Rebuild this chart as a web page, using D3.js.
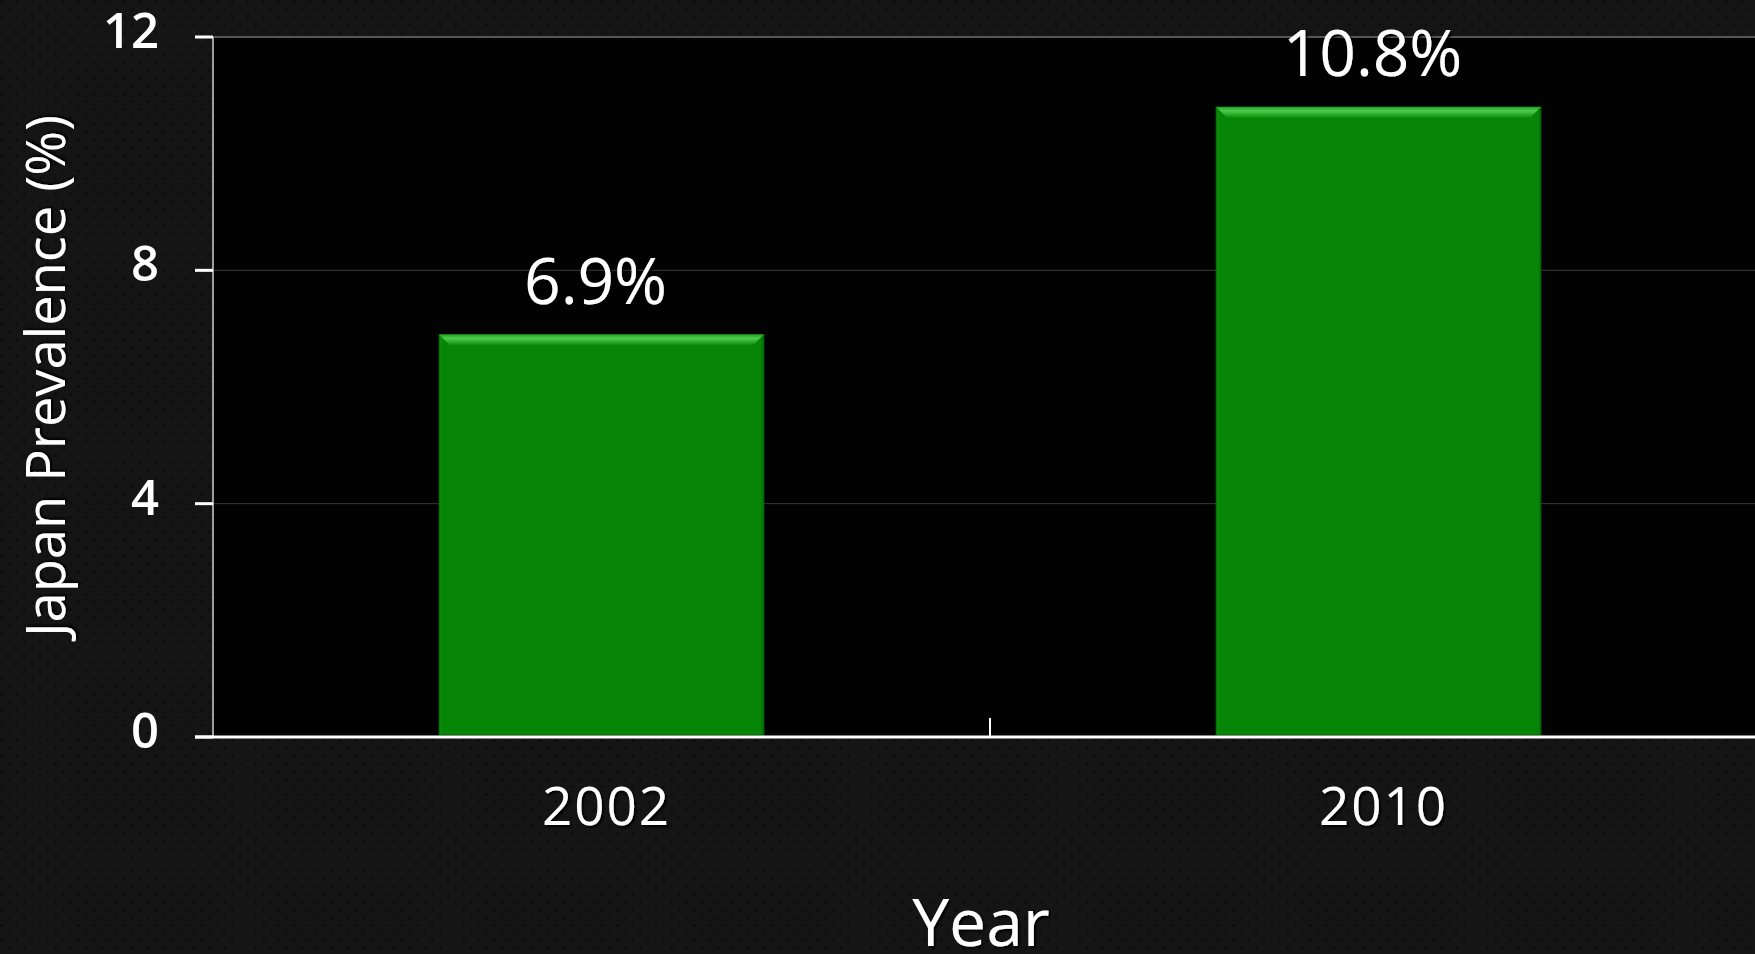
<!DOCTYPE html>
<html>
<head>
<meta charset="utf-8">
<script src="https://cdn.jsdelivr.net/npm/d3@7"></script>
<style>
  html, body { margin: 0; padding: 0; background: #141414; overflow: hidden; }
  svg { display: block; }
</style>
</head>
<body>
<script>
// Prevalence by survey year
const years = ["2002", "2010"];
const prevalence = [6.9, 10.8];
const valueLabels = ["6.9%", "10.8%"];
const yTicks = [0, 4, 8, 12];
const yTitle = "Japan Prevalence (%)";
const xTitle = "Year";

const W = 1755, H = 954;
const plot = { left: 213, right: 1767, top: 37, bottom: 737 };

const svg = d3.select("body").append("svg")
  .attr("width", W).attr("height", H);

const defs = svg.append("defs");

// dotted backdrop texture
const pat = defs.append("pattern")
  .attr("id", "dots").attr("patternUnits", "userSpaceOnUse")
  .attr("width", 15.4).attr("height", 15.4);
pat.append("rect").attr("width", 15.4).attr("height", 15.4).attr("fill", "#151515");
pat.append("circle").attr("cx", 1.5).attr("cy", 1.5).attr("r", 1.3).attr("fill", "#0a0a0a");
pat.append("circle").attr("cx", 9.2).attr("cy", 9.2).attr("r", 1.3).attr("fill", "#0a0a0a");

// soft dark shadow under text
const sh = defs.append("filter").attr("id", "txtShadow")
  .attr("x", "-10%").attr("y", "-10%").attr("width", "130%").attr("height", "130%");
sh.append("feDropShadow").attr("dx", 2).attr("dy", 2).attr("stdDeviation", 1)
  .attr("flood-color", "#000").attr("flood-opacity", 0.9);

// bevel gradients for bars
const gTop = defs.append("linearGradient").attr("id", "bevelTop")
  .attr("x1", 0).attr("y1", 0).attr("x2", 0).attr("y2", 1);
gTop.append("stop").attr("offset", "0%").attr("stop-color", "#2a9e2a");
gTop.append("stop").attr("offset", "35%").attr("stop-color", "#4ccd4c");
gTop.append("stop").attr("offset", "70%").attr("stop-color", "#28a828");
gTop.append("stop").attr("offset", "100%").attr("stop-color", "#088a08");

const gBody = defs.append("linearGradient").attr("id", "bevelBody")
  .attr("x1", 0).attr("y1", 0).attr("x2", 1).attr("y2", 0);
gBody.append("stop").attr("offset", "0%").attr("stop-color", "#0b930b");
gBody.append("stop").attr("offset", "1%").attr("stop-color", "#068506");
gBody.append("stop").attr("offset", "99%").attr("stop-color", "#068506");
gBody.append("stop").attr("offset", "100%").attr("stop-color", "#046e04");

svg.append("rect").attr("width", W).attr("height", H).attr("fill", "url(#dots)");

// scales
const y = d3.scaleLinear().domain([0, 12]).range([plot.bottom, plot.top]);
const x = d3.scaleBand().domain(years).range([plot.left, plot.right]).padding(0);
const barW = x.bandwidth() * 0.418;

// plotting area
svg.append("rect")
  .attr("x", plot.left).attr("y", plot.top)
  .attr("width", W - plot.left).attr("height", plot.bottom - plot.top)
  .attr("fill", "#020202");

// gridlines
svg.append("g").selectAll("line")
  .data(yTicks.filter(d => d > 0))
  .join("line")
  .attr("x1", plot.left).attr("x2", W)
  .attr("y1", d => y(d)).attr("y2", d => y(d))
  .attr("stroke", d => d === 12 ? "#575757" : "#3a3a3a")
  .attr("stroke-width", d => d === 12 ? 2 : 1);

// bars
const bars = svg.append("g").selectAll("g")
  .data(years.map((yr, i) => ({ yr, v: prevalence[i], label: valueLabels[i] })))
  .join("g");

bars.append("rect")
  .attr("x", d => x(d.yr) + (x.bandwidth() - barW) / 2)
  .attr("y", d => y(d.v))
  .attr("width", barW)
  .attr("height", d => y(0) - y(d.v) - 2)
  .attr("fill", "url(#bevelBody)")
  .attr("stroke", "#056605").attr("stroke-width", 1);

const bev = 11;
bars.append("path")
  .attr("d", d => {
    const x0 = x(d.yr) + (x.bandwidth() - barW) / 2, x1 = x0 + barW, t = y(d.v);
    return `M${x0},${t}L${x1},${t}L${x1 - bev},${t + bev}L${x0 + bev},${t + bev}Z`;
  })
  .attr("fill", "url(#bevelTop)");

// value labels
bars.append("text")
  .attr("x", d => x(d.yr) + x.bandwidth() / 2 - 6)
  .attr("y", d => y(d.v) - 31)
  .attr("text-anchor", "middle")
  .attr("font-family", "'Open Sans', sans-serif")
  .attr("font-size", 64)
  .attr("fill", "#ffffff")
  .attr("filter", "url(#txtShadow)")
  .text(d => d.label);

// y axis
const yAxis = svg.append("g");
yAxis.append("line")
  .attr("x1", plot.left).attr("x2", plot.left)
  .attr("y1", plot.top).attr("y2", plot.bottom)
  .attr("stroke", "#cfcfcf").attr("stroke-width", 1.5);
yAxis.selectAll("line.tick")
  .data(yTicks).join("line").attr("class", "tick")
  .attr("x1", 195).attr("x2", plot.left)
  .attr("y1", d => y(d)).attr("y2", d => y(d))
  .attr("stroke", "#ffffff").attr("stroke-width", 3);
yAxis.selectAll("text")
  .data(yTicks).join("text")
  .attr("x", 159)
  .attr("y", d => y(d) + 11)
  .attr("text-anchor", "end")
  .attr("font-family", "'Open Sans', sans-serif")
  .attr("font-weight", 600)
  .attr("font-size", 49)
  .attr("fill", "#ffffff")
  .text(d => d);

// x axis
const xAxis = svg.append("g");
xAxis.append("line")
  .attr("x1", 195).attr("x2", W)
  .attr("y1", plot.bottom).attr("y2", plot.bottom)
  .attr("stroke", "#ffffff").attr("stroke-width", 3);
xAxis.selectAll("line.tick")
  .data(years.slice(1)).join("line").attr("class", "tick")
  .attr("x1", d => x(d)).attr("x2", d => x(d))
  .attr("y1", plot.bottom - 19).attr("y2", plot.bottom)
  .attr("stroke", "#ffffff").attr("stroke-width", 2);
xAxis.selectAll("text")
  .data(years).join("text")
  .attr("x", d => x(d) + x.bandwidth() / 2 + 5)
  .attr("y", 825)
  .attr("text-anchor", "middle")
  .attr("font-family", "'Open Sans', sans-serif")
  .attr("font-size", 53)
  .attr("letter-spacing", 2)
  .attr("fill", "#ffffff")
  .attr("filter", "url(#txtShadow)")
  .text(d => d);

// axis titles
svg.append("text")
  .attr("x", 981).attr("y", 946)
  .attr("text-anchor", "middle")
  .attr("font-family", "'Open Sans', sans-serif")
  .attr("font-size", 66)
  .attr("fill", "#ffffff")
  .attr("filter", "url(#txtShadow)")
  .text(xTitle);

svg.append("text")
  .attr("transform", "translate(65,376) rotate(-90)")
  .attr("text-anchor", "middle")
  .attr("font-family", "'Open Sans', sans-serif")
  .attr("font-size", 54)
  .attr("textLength", 522)
  .attr("lengthAdjust", "spacingAndGlyphs")
  .attr("fill", "#ffffff")
  .attr("filter", "url(#txtShadow)")
  .text(yTitle);
</script>
</body>
</html>
